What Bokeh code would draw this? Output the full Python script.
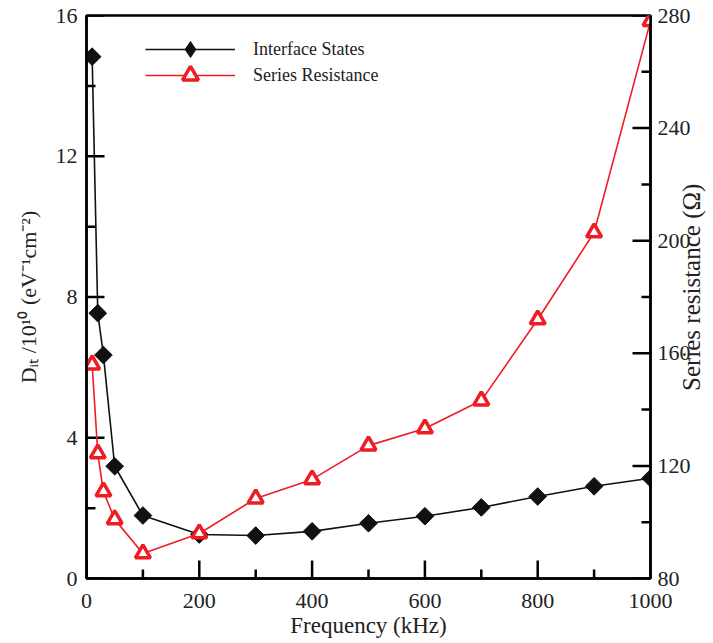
import math
from bokeh.plotting import figure
from bokeh.models import Range1d, LinearAxis, FixedTicker, Legend, LegendItem, Label
from bokeh.embed import file_html
from bokeh.resources import INLINE

# Data
freq_khz = [10, 20, 30, 50, 100, 200, 300, 400, 500, 600, 700, 800, 900, 1000]
dit_1e10 = [14.83, 7.54, 6.35, 3.19, 1.79, 1.25, 1.22, 1.34, 1.57, 1.77, 2.02, 2.33, 2.62, 2.85]
rs_ohm = [156.0, 124.4, 110.9, 101.0, 88.9, 96.0, 108.4, 115.2, 127.2, 133.3, 143.2, 172.0, 202.9, 278.0]

x_ticks = [0, 200, 400, 600, 800, 1000]
x_minor = [100, 300, 500, 700, 900]
left_ticks = [0, 4, 8, 12, 16]
left_minor = [2, 6, 10, 14]
right_ticks = [80, 120, 160, 200, 240, 280]
right_minor = [100, 140, 180, 220, 260]

FONT = "Liberation Serif"
TXT = "#222222"
FW, FH = 564, 563

x_range = Range1d(0, 1000)
y_range = Range1d(0, 16)
rs_range = Range1d(80, 280)
p = figure(frame_width=FW, frame_height=FH,
           x_range=x_range, y_range=y_range,
           output_backend="svg", toolbar_location=None,
           min_border_left=86, min_border_right=62,
           min_border_top=15, min_border_bottom=62)
p.extra_y_ranges = {"rs": rs_range}
p.grid.visible = False
p.outline_line_color = "black"
p.outline_line_width = 2.5
p.background_fill_color = "white"
p.border_fill_color = "white"

right_axis = LinearAxis(y_range_name="rs")
p.add_layout(right_axis, "right")

p.xaxis.ticker = FixedTicker(ticks=x_ticks, minor_ticks=x_minor)
p.yaxis[0].ticker = FixedTicker(ticks=left_ticks, minor_ticks=left_minor)
right_axis.ticker = FixedTicker(ticks=right_ticks, minor_ticks=right_minor)

p.xaxis.axis_label = "Frequency (kHz)"
p.yaxis[0].axis_label = "Dᵢₜ /10¹⁰ (eV⁻¹cm⁻²)"

for ax in [p.xaxis[0], p.yaxis[0], right_axis]:
    ax.axis_line_width = 2.5
    ax.axis_line_color = "black"
    ax.major_tick_line_color = None
    ax.minor_tick_line_color = None
    ax.major_tick_in = 0
    ax.major_tick_out = 0
    ax.minor_tick_in = 0
    ax.minor_tick_out = 0
    ax.major_label_text_font = FONT
    ax.major_label_text_font_size = "22px"
    ax.major_label_text_color = TXT
    ax.axis_label_text_font = FONT
    ax.axis_label_text_font_style = "normal"
    ax.axis_label_text_color = TXT

p.xaxis.axis_label_text_font_size = "23px"
p.yaxis[0].axis_label_text_font_size = "22px"
p.xaxis.major_label_standoff = 15
p.xaxis.axis_label_standoff = 2
p.yaxis[0].major_label_standoff = 9
p.yaxis[0].axis_label_standoff = 12
right_axis.major_label_standoff = 7

RIGHT_TITLE = "Series resistance (Ω)"
props = right_axis.properties()
if "axis_label_orientation" in props:
    right_axis.axis_label_orientation = math.pi / 2
    right_axis.axis_label_text_font_size = "25px"
    right_axis.axis_label_standoff = -2
    if "axis_label_align" in props:
        # label starts at the bottom end of the axis; non-breaking spaces lift it to centre
        right_axis.axis_label_align = "start"
        right_axis.axis_label = "\u00a0" * 30 + RIGHT_TITLE
    else:
        right_axis.axis_label = RIGHT_TITLE
else:
    right_axis.axis_label = RIGHT_TITLE
    right_axis.axis_label_text_font_size = "25px"

# inward ticks drawn as segments from the axis lines (lengths in pixels -> data units)
def seg_ticks(vals, length_px, side, y_range_name="default"):
    if side == "bottom":
        d = length_px / FH * (y_range.end - y_range.start)
        p.segment(x0=vals, y0=[y_range.start] * len(vals), x1=vals,
                  y1=[y_range.start + d] * len(vals), line_color="black", line_width=2.5)
    elif side == "left":
        d = length_px / FW * (x_range.end - x_range.start)
        p.segment(x0=[x_range.start] * len(vals), y0=vals,
                  x1=[x_range.start + d] * len(vals), y1=vals,
                  line_color="black", line_width=2.5)
    else:
        d = length_px / FW * (x_range.end - x_range.start)
        p.segment(x0=[x_range.end] * len(vals), y0=vals,
                  x1=[x_range.end - d] * len(vals), y1=vals,
                  line_color="black", line_width=2.5, y_range_name=y_range_name)

seg_ticks(x_ticks, 18, "bottom")
seg_ticks(x_minor, 9, "bottom")
seg_ticks(left_ticks, 18, "left")
seg_ticks(left_minor, 9, "left")
seg_ticks(right_ticks, 18, "right", "rs")
seg_ticks(right_minor, 9, "right", "rs")

l1 = p.line(freq_khz, dit_1e10, line_color="#111111", line_width=1.6)
# small diamonds hidden under the rotated squares: used for the legend sample shape
leg_d = p.scatter(freq_khz, dit_1e10, marker="diamond", size=4,
                  fill_color="#111111", line_color="#111111")
m1 = p.scatter(freq_khz, dit_1e10, marker="square", angle=math.pi / 4, size=12.5,
               fill_color="#111111", line_color="#111111")
l2 = p.line(freq_khz, rs_ohm, y_range_name="rs", line_color="#ee1c25", line_width=1.6)
m2 = p.scatter(freq_khz, rs_ohm, y_range_name="rs", marker="triangle", size=15,
               fill_color="white", line_color="#ee1c25", line_width=3.5)

LEG = dict(padding=0, spacing=0, glyph_width=90, glyph_height=40, label_height=40,
           label_standoff=18, border_line_color=None, background_fill_alpha=0,
           label_text_font=FONT, label_text_font_size="18px", label_text_color=TXT)
p.add_layout(Legend(items=[LegendItem(label="Interface States", renderers=[l1, leg_d])],
                    location=(59, 509), **LEG))
p.add_layout(Legend(items=[LegendItem(label="Series Resistance", renderers=[l2, m2])],
                    location=(59, 483), **LEG))

open("out.html", "w").write(file_html(p, INLINE))
